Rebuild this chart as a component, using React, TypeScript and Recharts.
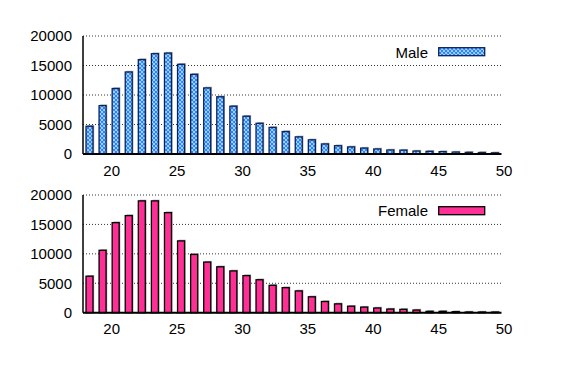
import { BarChart, Bar, XAxis, YAxis, CartesianGrid, Legend } from "recharts"

const ages = [
  18, 19, 20, 21, 22, 23, 24, 25, 26, 27, 28, 29, 30, 31, 32, 33,
  34, 35, 36, 37, 38, 39, 40, 41, 42, 43, 44, 45, 46, 47, 48, 49
]
const maleCounts = [
  4700, 8200, 11100, 13900, 16000, 17000, 17100, 15200, 13500, 11200, 9700, 8100, 6400, 5200, 4500, 3800,
  2900, 2400, 1700, 1400, 1200, 1000, 850, 680, 650, 500, 450, 400, 330, 280, 250, 200
]
const femaleCounts = [
  6200, 10600, 15300, 16500, 19000, 19000, 17000, 12200, 9900, 8600, 7800, 7100, 6300, 5600, 4650, 4250,
  3700, 2700, 1900, 1500, 1100, 950, 800, 620, 570, 450, 230, 230, 170, 110, 110, 100
]
const yTicks = [0, 5000, 10000, 15000, 20000]
const xTicks = [20, 25, 30, 35, 40, 45, 50]

const FONT = '"Liberation Sans", Arial, sans-serif'
const MALE_BLUE = "#2386ff"
const MALE_EDGE = "#0b2357"
const FEMALE_PINK = "#ff2f96"

const maleData = ages.map((age, i) => ({ age, count: maleCounts[i] }))
const femaleData = ages.map((age, i) => ({ age, count: femaleCounts[i] }))

// bar with a small grey drop shadow up/right, like the original plot
const ShadowBar = (props: any) => {
  const { x, y, width, height, fill, stroke } = props
  if (!height || height <= 0) return null
  return (
    <g>
      <rect x={x + 1.2} y={y - 1.2} width={width} height={height + 1.2} fill="#a8a8a8" />
      <rect x={x} y={y} width={width} height={height} fill={fill} stroke={stroke} strokeWidth={1.3} />
    </g>
  )
}

const XTick = (props: any) => {
  const { x, y, payload } = props
  return (
    <text x={x - 4} y={y} dy="0.71em" textAnchor="middle" fontSize={15} fontFamily={FONT} fill="#000">
      {payload.value}
    </text>
  )
}

// blue crosshatch with white holes
const HatchDefs = ({ id }: { id: string }) => (
  <defs>
    <pattern id={id} width={4} height={4} patternUnits="userSpaceOnUse">
      <rect width={4} height={4} fill="#fff" />
      <path d="M-1,1 L1,-1 M0,4 L4,0 M3,5 L5,3 M-1,3 L1,5 M0,0 L4,4 M3,-1 L5,1" stroke={MALE_BLUE} strokeWidth={1.3} />
    </pattern>
  </defs>
)

const LegendBox = ({ label, fill, stroke, hatch }: { label: string; fill: string; stroke: string; hatch?: boolean }) => (
  <div style={{ display: "flex", justifyContent: "flex-end", alignItems: "center", fontFamily: FONT, fontSize: 15, color: "#000", lineHeight: "17px" }}>
    <span>{label}</span>
    <svg width={48} height={10} style={{ marginLeft: 10 }}>
      {hatch && <HatchDefs id="maleHatchLegend" />}
      <rect x={0.7} y={0.7} width={46} height={8} fill={hatch ? "url(#maleHatchLegend)" : fill} stroke={stroke} strokeWidth={1.3} />
    </svg>
  </div>
)

function AgePanel({ data, fill, stroke, label, hatch, marginTop, marginBottom, height, legendTop }: any) {
  return (
    <BarChart
      width={561}
      height={height}
      data={data}
      margin={{ top: marginTop, right: 59.5, left: 0, bottom: marginBottom }}
    >
      {hatch && <HatchDefs id="maleHatch" />}
      <CartesianGrid vertical={false} stroke="#333" strokeDasharray="1 2" />
      <XAxis
        dataKey="age"
        type="number"
        domain={[17.5, 49.5]}
        ticks={xTicks}
        interval={0}
        allowDataOverflow
        height={30}
        tickSize={0}
        tickMargin={11}
        tick={<XTick />}
        axisLine={{ stroke: "#000", strokeWidth: 2 }}
        tickLine={false}
      />
      <YAxis
        domain={[0, 20000]}
        ticks={yTicks}
        interval={0}
        width={83}
        tickSize={0}
        tickMargin={11}
        tick={{ fontSize: 15, fontFamily: FONT, fill: "#000" }}
        axisLine={{ stroke: "#000", strokeWidth: 1.5 }}
        tickLine={false}
      />
      <Legend
        layout="horizontal"
        verticalAlign="middle"
        align="center"
        content={() => <LegendBox label={label} fill={fill} stroke={stroke} hatch={hatch} />}
        wrapperStyle={{ position: "absolute", top: legendTop, left: 360, width: 126, bottom: "auto" }}
      />
      <Bar
        dataKey="count"
        name={label}
        barSize={7}
        fill={hatch ? "url(#maleHatch)" : fill}
        stroke={stroke}
        shape={<ShadowBar />}
        isAnimationActive={false}
      />
    </BarChart>
  )
}

export default function App() {
  return (
    <div style={{ position: "absolute", left: 0, top: 0, width: 561, height: 369, background: "#fff" }}>
      <div style={{ position: "absolute", left: 0, top: 0 }}>
        <AgePanel data={maleData} fill={MALE_BLUE} stroke={MALE_EDGE} label="Male" hatch
          marginTop={36} marginBottom={1} height={185} legendTop={43.5} />
      </div>
      <div style={{ position: "absolute", left: 0, top: 185 }}>
        <AgePanel data={femaleData} fill={FEMALE_PINK} stroke="#000" label="Female"
          marginTop={10} marginBottom={26.3} height={184} legendTop={17} />
      </div>
    </div>
  )
}
